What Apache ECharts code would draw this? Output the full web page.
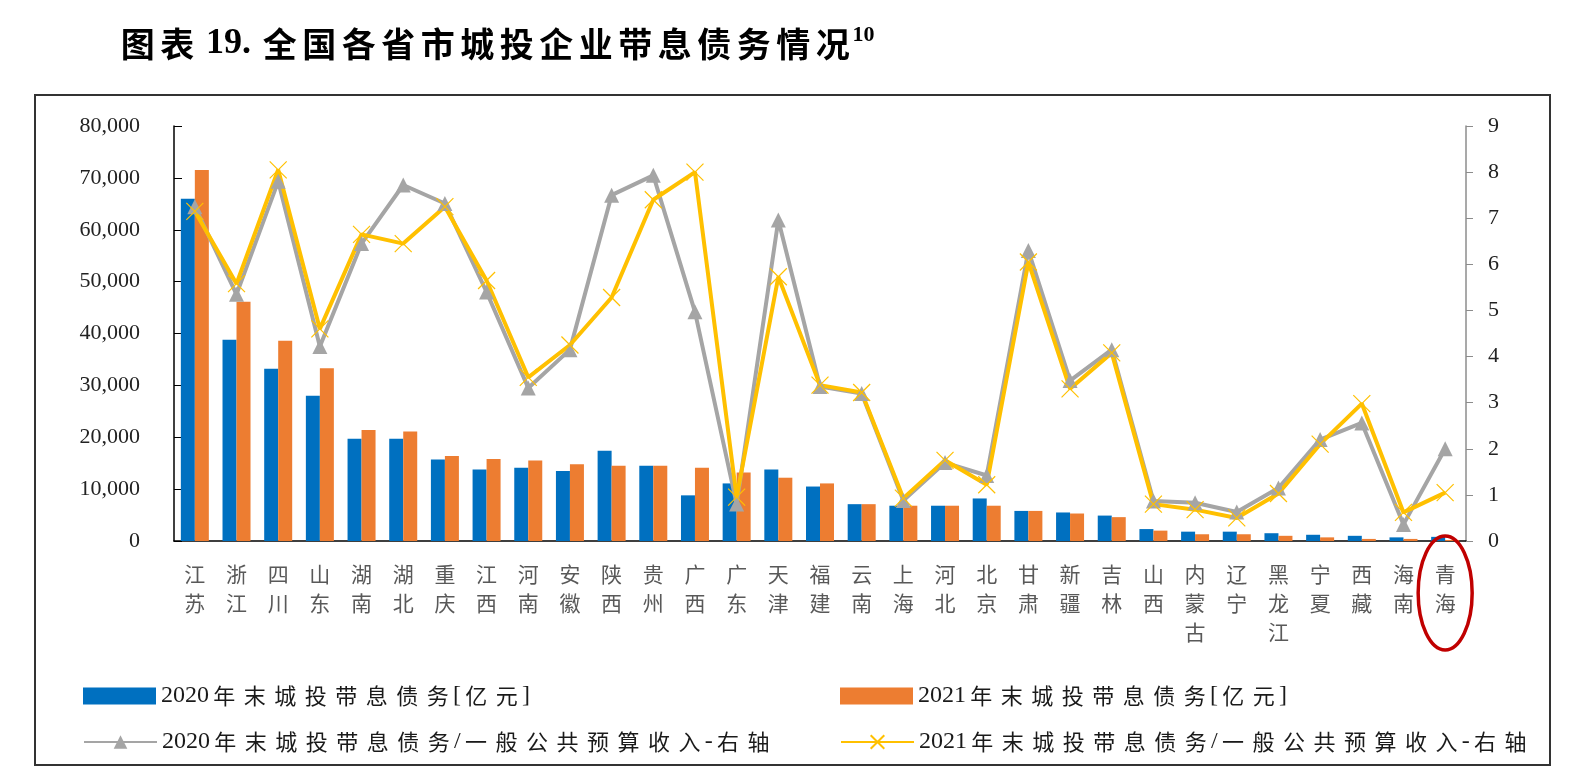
<!DOCTYPE html>
<html>
<head>
<meta charset="utf-8">
<script src="https://cdn.jsdelivr.net/npm/echarts/dist/echarts.min.js"></script>
<style>
  html, body { margin: 0; padding: 0; background: #fff; }
  #main { width: 1573px; height: 770px; }
</style>
</head>
<body>
<div id="main"></div>
<script>
// data
const provinces = ['江苏', '浙江', '四川', '山东', '湖南', '湖北', '重庆', '江西', '河南', '安徽', '陕西', '贵州', '广西', '广东', '天津', '福建', '云南', '上海', '河北', '北京', '甘肃', '新疆', '吉林', '山西', '内蒙古', '辽宁', '黑龙江', '宁夏', '西藏', '海南', '青海'];
const debt2020 = [66000, 38800, 33200, 28000, 19700, 19700, 15700, 13800, 14100, 13500, 17400, 14500, 8800, 11100, 13800, 10500, 7100, 6800, 6800, 8200, 5800, 5500, 4900, 2300, 1800, 1800, 1500, 1200, 1000, 700, 800];
const debt2021 = [71500, 46100, 38600, 33300, 21400, 21100, 16400, 15800, 15500, 14800, 14500, 14500, 14100, 13200, 12200, 11100, 7100, 6800, 6800, 6800, 5800, 5300, 4600, 2000, 1300, 1300, 1000, 700, 400, 400, 200];
const ratio2020 = [7.25, 5.35, 7.8, 4.22, 6.45, 7.72, 7.32, 5.4, 3.32, 4.15, 7.5, 7.93, 4.97, 0.8, 6.96, 3.35, 3.2, 0.88, 1.7, 1.42, 6.3, 3.48, 4.15, 0.87, 0.83, 0.63, 1.15, 2.2, 2.56, 0.36, 2.0];
const ratio2021 = [7.15, 5.58, 8.05, 4.6, 6.65, 6.45, 7.25, 5.65, 3.55, 4.25, 5.28, 7.4, 8.0, 0.95, 5.73, 3.38, 3.22, 0.93, 1.75, 1.22, 6.05, 3.3, 4.08, 0.8, 0.68, 0.5, 1.03, 2.1, 2.98, 0.62, 1.05];

const names = [
    '2020年末城投带息债务[亿元]',
    '2021年末城投带息债务[亿元]',
    '2020年末城投带息债务/一般公共预算收入-右轴',
    '2021年末城投带息债务/一般公共预算收入-右轴'
];

const fontMix = "'Liberation Serif', 'Noto Sans CJK SC', serif";
const isCJK = ch => /[\u4e00-\u9fff]/.test(ch);

// the original text is set with wide character spacing, so each CJK char gets its own box
const spaced = s => s.split('').map(ch => isCJK(ch) ? '{c|' + ch + '}' : '{d|' + ch + '}').join('');

const legendText = {
    rich: {
        c: { fontSize: 22, width: 30.5, align: 'center', color: '#1a1a1a', fontFamily: 'Noto Sans CJK SC' },
        d: { fontSize: 24, color: '#1a1a1a', fontFamily: fontMix }
    }
};

const chart = echarts.init(document.getElementById('main'));

const options = {
    animation: false,
    title: {
        text: spaced('图表') + '{d| 19. }' + spaced('全国各省市城投企业带息债务情况') + '{s|10}',
        left: 113,
        top: 19,
        textStyle: {
            rich: {
                c: { fontSize: 34, width: 39.5, align: 'center', fontWeight: 'bold', color: '#000', fontFamily: 'Noto Sans CJK SC' },
                d: { fontSize: 36, fontWeight: 'bold', color: '#000', fontFamily: fontMix },
                s: { fontSize: 22, fontWeight: 'bold', color: '#000', fontFamily: fontMix, verticalAlign: 'top', padding: [0, 0, 18, 0] }
            }
        }
    },
    grid: { left: 174, right: 107, top: 126, bottom: 229 },
    legend: [
        { data: [names[0]], left: 78, top: 679, icon: 'rect', itemWidth: 73, itemHeight: 17, itemGap: 2, formatter: spaced, textStyle: legendText },
        { data: [names[1]], left: 835, top: 679, icon: 'rect', itemWidth: 73, itemHeight: 17, itemGap: 2, formatter: spaced, textStyle: legendText },
        { data: [names[2]], left: 78, top: 725, itemWidth: 73, itemHeight: 17, itemGap: 2, formatter: spaced, textStyle: legendText },
        { data: [names[3]], left: 835, top: 725, itemWidth: 73, itemHeight: 17, itemGap: 2, formatter: spaced, textStyle: legendText }
    ],
    xAxis: {
        type: 'category',
        data: provinces,
        axisLine: { lineStyle: { color: '#000', width: 1.5 } },
        axisTick: { inside: true, length: 6, lineStyle: { color: '#000' } },
        axisLabel: {
            interval: 0,
            margin: 19,
            fontSize: 21,
            lineHeight: 29,
            color: '#595959',
            fontFamily: 'Noto Sans CJK SC',
            formatter: v => v.split('').join('\n')
        }
    },
    yAxis: [{
        type: 'value',
        min: 0,
        max: 80000,
        interval: 10000,
        splitLine: { show: false },
        axisLine: { show: true, lineStyle: { color: '#000', width: 1.5 } },
        axisTick: { show: true, inside: true, length: 8, lineStyle: { color: '#000' } },
        axisLabel: {
            margin: 34,
            fontSize: 22,
            color: '#222',
            fontFamily: fontMix,
            formatter: v => v.toLocaleString('en-US')
        }
    }, {
        type: 'value',
        min: 0,
        max: 9,
        interval: 1,
        splitLine: { show: false },
        axisLine: { show: true, lineStyle: { color: '#8c8c8c', width: 1.5 } },
        axisTick: { show: true, length: 7, lineStyle: { color: '#8c8c8c' } },
        axisLabel: { margin: 22, fontSize: 22, color: '#222', fontFamily: fontMix }
    }],
    series: [{
        name: names[0],
        type: 'bar',
        data: debt2020,
        barWidth: 14,
        barGap: '0%',
        itemStyle: { color: '#0070C0' }
    }, {
        name: names[1],
        type: 'bar',
        data: debt2021,
        barWidth: 14,
        itemStyle: { color: '#ED7D31' }
    }, {
        name: names[2],
        type: 'line',
        yAxisIndex: 1,
        data: ratio2020,
        symbol: 'triangle',
        symbolSize: 15,
        lineStyle: { color: '#A5A5A5', width: 4 },
        itemStyle: { color: '#A5A5A5' }
    }, {
        name: names[3],
        type: 'line',
        yAxisIndex: 1,
        data: ratio2021,
        symbol: 'path://M0,0L10,10M10,0L0,10',
        symbolSize: 17,
        lineStyle: { color: '#FFC000', width: 4 },
        itemStyle: { color: '#FFC000', borderColor: '#FFC000', borderWidth: 1.2 }
    }],
    graphic: [{
        id: 'frame',
        type: 'rect',
        shape: { x: 35, y: 95, width: 1515, height: 670 },
        style: { fill: 'none', stroke: '#333', lineWidth: 2 },
        silent: true
    }]
};

chart.setOption(options);

// red ellipse around the last category
const qx = chart.convertToPixel({ xAxisIndex: 0 }, provinces[provinces.length - 1]);
chart.setOption({
    graphic: [{
        id: 'mark',
        type: 'ellipse',
        shape: { cx: qx, cy: 593, rx: 27, ry: 57 },
        style: { fill: 'none', stroke: '#C00000', lineWidth: 3.5 },
        silent: true,
        z: 10
    }]
});
</script>
</body>
</html>
